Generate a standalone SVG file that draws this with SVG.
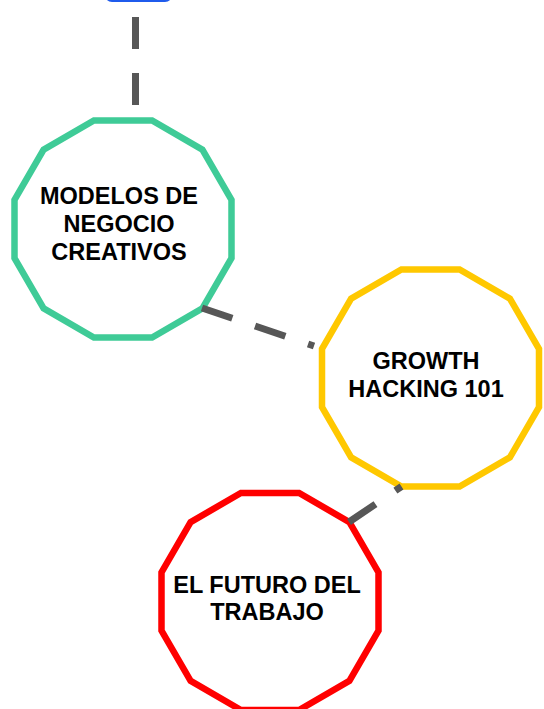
<svg xmlns="http://www.w3.org/2000/svg" xmlns:xlink="http://www.w3.org/1999/xlink" width="544" height="709" viewBox="0 0 544 709">
  <style>
    .conn { stroke: #575757; stroke-width: 7; stroke-dasharray: 32 24; fill: none; }
    .node { fill: #ffffff; stroke-width: 6.5; stroke-linejoin: miter; }
    .green { stroke: #3fcb97; }
    .yellow { stroke: #ffc800; }
    .red { stroke: #ff0000; }
    .label { font-family: "Liberation Sans", Arial, sans-serif; font-weight: bold; font-size: 23.5px; fill: #000000; text-anchor: middle; }
  </style>
  <defs>
    <polygon id="dodeca" points="108.5,29.1 79.4,79.4 29.1,108.5 -29.1,108.5 -79.4,79.4 -108.5,29.1 -108.5,-29.1 -79.4,-79.4 -29.1,-108.5 29.1,-108.5 79.4,-79.4 108.5,-29.1"/>
  </defs>
  <g id="node-top">
    <rect x="106" y="-50" width="65" height="50.5" rx="6" fill="#ffffff" stroke="#1f5bec" stroke-width="3"/>
  </g>
  <g id="node-modelos">
    <use xlink:href="#dodeca" href="#dodeca" x="123" y="229" class="node green"/>
    <text class="label" x="119" y="204">MODELOS DE</text>
    <text class="label" x="119" y="232">NEGOCIO</text>
    <text class="label" x="119" y="260">CREATIVOS</text>
  </g>
  <g id="node-growth">
    <use xlink:href="#dodeca" href="#dodeca" x="430.5" y="378" class="node yellow"/>
    <text class="label" x="426" y="369">GROWTH</text>
    <text class="label" x="426" y="397">HACKING 101</text>
  </g>
  <g id="node-futuro">
    <use xlink:href="#dodeca" href="#dodeca" x="270" y="601.5" class="node red"/>
    <text class="label" x="267" y="593">EL FUTURO DEL</text>
    <text class="label" x="267" y="620">TRABAJO</text>
  </g>
  <g id="connectors">
    <line class="conn" x1="135.5" y1="17" x2="135.5" y2="105"/>
    <line class="conn" x1="202" y1="308" x2="314" y2="346"/>
    <line class="conn" x1="349" y1="522" x2="401.5" y2="486.5"/>
  </g>
</svg>
